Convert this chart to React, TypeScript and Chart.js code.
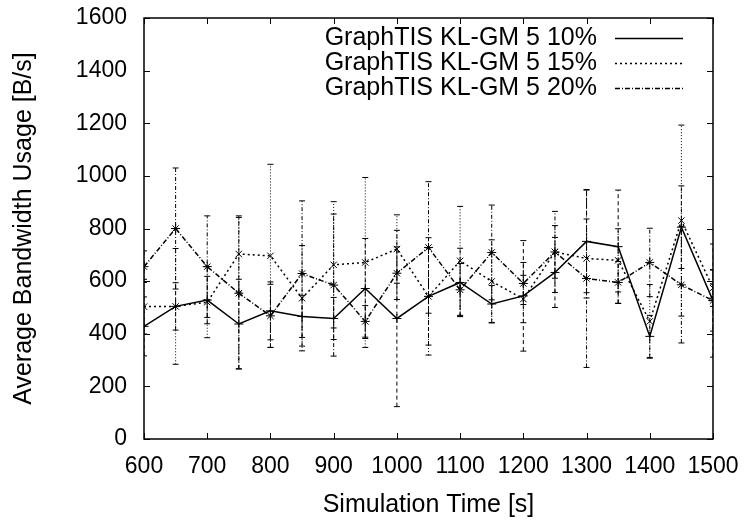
import React, { useEffect, useRef } from "react";
import { Chart, registerables } from "chart.js";

Chart.register(...registerables);

const times = [600, 650, 700, 750, 800, 850, 900, 950, 1000, 1050, 1100, 1150, 1200, 1250, 1300, 1350, 1400, 1450, 1500];
const mean10 = [428, 504, 528, 437, 487, 466, 458, 572, 458, 542, 595, 513, 544, 633, 751, 731, 390, 805, 526];
const mean15 = [503, 504, 520, 703, 696, 535, 662, 671, 722, 542, 677, 599, 532, 711, 686, 679, 447, 830, 574];
const mean20 = [655, 800, 655, 554, 468, 629, 585, 447, 630, 728, 567, 709, 591, 711, 610, 595, 671, 586, 526];
const err10 = [112, 90, 90, 170, 110, 80, 80, 190, 335, 185, 130, 70, 210, 133, 195, 215, 80, 157, 215];
const err15 = [104, 220, 135, 145, 348, 200, 240, 323, 130, 223, 207, 158, 90, 100, 150, 120, 140, 363, 70];
const err20 = [60, 230, 193, 288, 120, 276, 270, 60, 100, 250, 100, 180, 80, 154, 338, 80, 130, 221, 116];
const seriesLabels = ["GraphTIS KL-GM 5 10%", "GraphTIS KL-GM 5 15%", "GraphTIS KL-GM 5 20%"];
const xTickValues = [600, 700, 800, 900, 1000, 1100, 1200, 1300, 1400, 1500];
const yTickValues = [0, 200, 400, 600, 800, 1000, 1200, 1400, 1600];
const xTitle = "Simulation Time [s]";
const yTitle = "Average Bandwidth Usage [B/s]";

const FONT = "'Liberation Sans', Arial, Helvetica, sans-serif";
const TICK_FONT = 23;
const LEGEND_FONT = 25;
const TITLE_FONT = 25;

const gnuPlugin = {
  id: "gnuplotStyle",
  beforeDatasetsDraw(chart: any) {
    const { ctx, chartArea: a, scales } = chart;
    const x = scales.x;
    const y = scales.y;
    ctx.save();
    ctx.beginPath();
    ctx.rect(a.left, a.top, a.right - a.left, a.bottom - a.top);
    ctx.clip();
    chart.data.datasets.forEach((ds: any) => {
      const errs: number[] = ds.errors;
      const dash: number[] = ds.errDash;
      ctx.strokeStyle = "#000";
      ctx.lineWidth = 1;
      ds.data.forEach((p: any, j: number) => {
        const px = x.getPixelForValue(p.x);
        const y1 = y.getPixelForValue(p.y - errs[j]);
        const y2 = y.getPixelForValue(p.y + errs[j]);
        ctx.setLineDash(dash);
        ctx.beginPath();
        ctx.moveTo(px, y1);
        ctx.lineTo(px, y2);
        ctx.stroke();
        ctx.setLineDash([]);
        ctx.beginPath();
        ctx.moveTo(px - 3, y1);
        ctx.lineTo(px + 3, y1);
        ctx.moveTo(px - 3, y2);
        ctx.lineTo(px + 3, y2);
        ctx.stroke();
      });
    });
    ctx.restore();
  },
  afterDraw(chart: any) {
    const { ctx, chartArea: a, scales } = chart;
    const x = scales.x;
    const y = scales.y;
    ctx.save();
    ctx.strokeStyle = "#000";
    ctx.lineWidth = 1.5;
    ctx.setLineDash([]);
    ctx.strokeRect(a.left, a.top, a.right - a.left, a.bottom - a.top);
    ctx.lineWidth = 1;
    const tl = 6;
    ctx.beginPath();
    xTickValues.forEach((v) => {
      const px = Math.round(x.getPixelForValue(v)) + 0.5;
      ctx.moveTo(px, a.bottom);
      ctx.lineTo(px, a.bottom - tl);
      ctx.moveTo(px, a.top);
      ctx.lineTo(px, a.top + tl);
    });
    yTickValues.forEach((v) => {
      const py = Math.round(y.getPixelForValue(v)) + 0.5;
      ctx.moveTo(a.left, py);
      ctx.lineTo(a.left + tl, py);
      ctx.moveTo(a.right, py);
      ctx.lineTo(a.right - tl, py);
    });
    ctx.stroke();

    // legend
    ctx.font = `${LEGEND_FONT}px ${FONT}`;
    ctx.fillStyle = "#000";
    ctx.textAlign = "right";
    ctx.textBaseline = "middle";
    const rows = [38, 63, 88];
    chart.data.datasets.forEach((ds: any, i: number) => {
      const ry = rows[i];
      ctx.fillText(ds.label, 597, ry);
      ctx.setLineDash(ds.borderDash || []);
      ctx.lineWidth = ds.borderWidth;
      ctx.beginPath();
      ctx.moveTo(615, ry + 0.5);
      ctx.lineTo(683, ry + 0.5);
      ctx.stroke();
    });
    ctx.restore();
  },
};

function makeData(means: number[]) {
  return times.map((t, i) => ({ x: t, y: means[i] }));
}

function zeroPad(s: any) {
  s.paddingTop = 0;
  s.paddingBottom = 0;
  s.paddingLeft = 0;
  s.paddingRight = 0;
}

export default function App() {
  const ref = useRef<HTMLCanvasElement | null>(null);
  useEffect(() => {
    if (!ref.current) return;
    const common = {
      borderColor: "#000",
      backgroundColor: "#000",
      pointBorderColor: "#000",
      pointBackgroundColor: "#000",
      pointRadius: 4.5,
      pointBorderWidth: 1,
      fill: false,
      tension: 0,
    };
    const chart = new Chart(ref.current, {
      type: "line",
      data: {
        datasets: [
          {
            ...common,
            label: seriesLabels[0],
            data: makeData(mean10),
            borderWidth: 1.5,
            borderDash: [],
            pointStyle: "cross",
            errors: err10,
            errDash: [4, 3],
          } as any,
          {
            ...common,
            label: seriesLabels[1],
            data: makeData(mean15),
            borderWidth: 1.5,
            borderDash: [2, 3],
            pointStyle: "crossRot",
            errors: err15,
            errDash: [1, 2],
          } as any,
          {
            ...common,
            label: seriesLabels[2],
            data: makeData(mean20),
            borderWidth: 1.5,
            borderDash: [5, 2, 1, 2],
            pointStyle: "star",
            errors: err20,
            errDash: [4, 2, 1, 2],
          } as any,
        ],
      },
      options: {
        animation: false,
        responsive: false,
        devicePixelRatio: 1,
        layout: { padding: { top: 18, right: 33, left: 0, bottom: 0 } },
        plugins: {
          legend: { display: false },
          tooltip: { enabled: false },
        },
        scales: {
          x: {
            type: "linear",
            min: 600,
            max: 1500,
            afterFit: (s: any) => {
              s.height = 81;
              zeroPad(s);
            },
            afterBuildTicks: (s: any) => {
              s.ticks = xTickValues.map((v) => ({ value: v }));
            },
            grid: { display: false, drawTicks: false },
            border: { display: false },
            ticks: {
              color: "#000",
              padding: 14,
              maxRotation: 0,
              autoSkip: false,
              callback: (v: any) => String(v),
              font: { family: FONT, size: TICK_FONT },
            },
            title: {
              display: true,
              text: xTitle,
              color: "#000",
              font: { family: FONT, size: TITLE_FONT },
              padding: { top: 0, bottom: 0 },
            },
          },
          y: {
            type: "linear",
            min: 0,
            max: 1600,
            afterFit: (s: any) => {
              s.width = 144;
              zeroPad(s);
            },
            afterBuildTicks: (s: any) => {
              s.ticks = yTickValues.map((v) => ({ value: v }));
            },
            grid: { display: false, drawTicks: false },
            border: { display: false },
            ticks: {
              color: "#000",
              padding: 17,
              autoSkip: false,
              callback: (v: any) => String(v),
              font: { family: FONT, size: TICK_FONT },
            },
            title: {
              display: true,
              text: yTitle,
              color: "#000",
              font: { family: FONT, size: TITLE_FONT },
              padding: { top: 9, bottom: 0 },
            },
          },
        },
      },
      plugins: [gnuPlugin],
    } as any);
    return () => chart.destroy();
  }, []);
  return (
    <div style={{ position: "fixed", left: 0, top: 0, width: 746, height: 520, background: "#fff" }}>
      <canvas ref={ref} width={746} height={520} style={{ width: 746, height: 520 }} />
    </div>
  );
}
